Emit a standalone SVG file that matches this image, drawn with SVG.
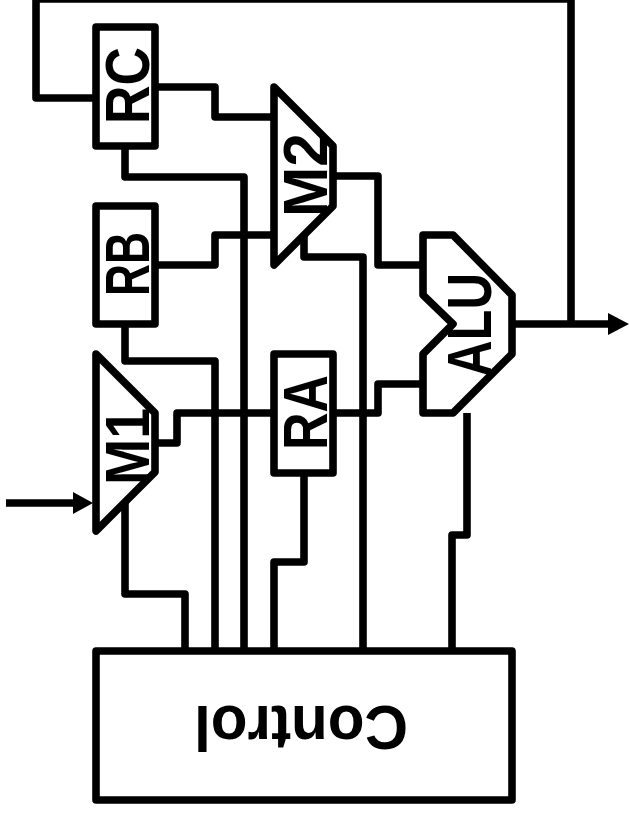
<svg xmlns="http://www.w3.org/2000/svg" width="629" height="815" viewBox="0 0 629 815">
<style>
.s{fill:none;stroke:#000;stroke-width:7.6;stroke-linejoin:round;stroke-linecap:butt}
.t{font-family:"Liberation Sans",Arial,sans-serif;font-weight:700;font-size:63px;fill:#000}
</style>
<rect width="629" height="815" fill="#fff"/>
<g id="connectors">
<path class="s" d="M96,98H36V-1H571V324"/>
<path class="s" d="M512,324H610"/>
<polygon points="608,313 629,324 608,335" fill="#000"/>
<path class="s" d="M6,503H75"/>
<polygon points="73,492 93,503 73,514" fill="#000"/>
<path class="s" d="M155,87H215V117H274"/>
<path class="s" d="M155,265H215V235H274"/>
<path class="s" d="M125,146V177H244V651"/>
<path class="s" d="M125,324V361H215V651"/>
<path class="s" d="M155,443H177V413H274"/>
<path class="s" d="M333,413H378V384H423"/>
<path class="s" d="M333,176H378V265H423"/>
<path class="s" d="M304,236V257H363V651"/>
<path class="s" d="M304,473V562H274V651"/>
<path class="s" d="M125,502V594H185V651"/>
<path class="s" d="M467,413V535H452V651"/>
</g>
<g id="RC"><rect class="s" x="96" y="27" width="59" height="119"/><text class="t" transform="translate(149,124) rotate(-90)" textLength="77" lengthAdjust="spacingAndGlyphs">RC</text></g>
<g id="RB"><rect class="s" x="96" y="206" width="59" height="118"/><text class="t" transform="translate(149,296) rotate(-90)" textLength="64" lengthAdjust="spacingAndGlyphs">RB</text></g>
<g id="RA"><rect class="s" x="274" y="354" width="59" height="119"/><text class="t" transform="translate(327,450) rotate(-90)" textLength="75" lengthAdjust="spacingAndGlyphs">RA</text></g>
<g id="M2"><polygon class="s" points="274,87 333,146 333,206 274,265"/><text class="t" transform="translate(327,217) rotate(-90)" textLength="84" lengthAdjust="spacingAndGlyphs">M2</text></g>
<g id="M1"><polygon class="s" points="96,354 155,413 155,472 96,531"/><text class="t" transform="translate(149,485) rotate(-90)" textLength="77" lengthAdjust="spacingAndGlyphs">M1</text></g>
<g id="ALU"><polygon class="s" points="423,235 453,235 512,295 512,354 453,413 423,413 423,354 453,324 423,295"/><text class="t" transform="translate(491,377) rotate(-90)" textLength="104" lengthAdjust="spacingAndGlyphs">ALU</text></g>
<g id="Control"><rect class="s" x="96" y="651" width="416" height="149"/><text class="t" transform="translate(408,706) rotate(180)" textLength="214" lengthAdjust="spacingAndGlyphs">Control</text></g>
</svg>
